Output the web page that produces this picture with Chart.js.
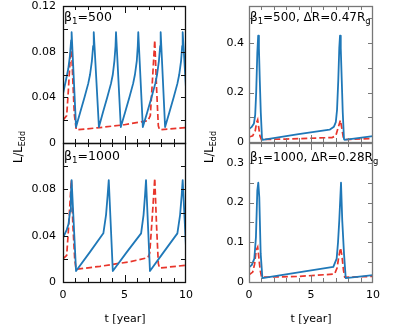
<!DOCTYPE html>
<html>
<head>
<meta charset="utf-8">
<script src="https://cdn.jsdelivr.net/npm/chart.js@4.4.0/dist/chart.umd.min.js"></script>
<style>
  body { margin: 0; background: #fff; }
  #wrap { position: relative; width: 415px; height: 332px; font-family: "DejaVu Sans", sans-serif; color: #000; }
  canvas { position: absolute; }
  .txt { position: absolute; white-space: nowrap; line-height: 1; }
  .txt sub { font-size: 0.7em; vertical-align: baseline; position: relative; top: 0.35em; }
  .ann { font-size: 12.5px; }
  .ann.r { font-size: 12px; }
  .ylab { font-size: 11.5px; transform: translate(-50%, -50%) rotate(-90deg); }
  .xlab { font-size: 11px; transform: translateX(-50%); }
</style>
</head>
<body>
<div id="wrap">
  <canvas id="tl" width="200" height="150" style="left:0;top:0"></canvas>
  <canvas id="bl" width="200" height="195" style="left:0;top:137px"></canvas>
  <canvas id="tr" width="215" height="150" style="left:200px;top:0"></canvas>
  <canvas id="br" width="215" height="195" style="left:200px;top:137px"></canvas>

  <div class="txt ann" style="left:64px;top:11px">β<sub>1</sub>=500</div>
  <div class="txt ann" style="left:64px;top:150px">β<sub>1</sub>=1000</div>
  <div class="txt ann r" style="left:250px;top:11px">β<sub>1</sub>=500, ΔR=0.47R<sub>g</sub></div>
  <div class="txt ann r" style="left:250px;top:151px">β<sub>1</sub>=1000, ΔR=0.28R<sub>g</sub></div>

  <div class="txt ylab" style="left:19px;top:147px">L/L<sub>Edd</sub></div>
  <div class="txt ylab" style="left:210px;top:147px">L/L<sub>Edd</sub></div>

  <div class="txt xlab" style="left:125px;top:313px">t [year]</div>
  <div class="txt xlab" style="left:311px;top:313px">t [year]</div>
</div>
<script>
// tick labels
const xLabels = ['0', '5', '10'];
const leftTopYLabels = ['0', '0.04', '0.08', '0.12'];
const leftBotYLabels = ['0', '0.04', '0.08'];
const rightTopYLabels = ['0', '0.2', '0.4'];
const rightBotYLabels = ['0', '0.1', '0.2', '0.3'];

// beta1 = 500 (left top)
const tlBlueT = [0, 0.2, 0.43, 0.57, 0.66, 0.7, 1.06,
  1.4, 1.75, 2.05, 2.2, 2.35, 2.45, 2.5, 2.92,
  3.25, 3.6, 3.9, 4.05, 4.18, 4.27, 4.31, 4.7,
  5.05, 5.4, 5.7, 5.85, 6.0, 6.08, 6.12, 6.49,
  6.85, 7.2, 7.5, 7.65, 7.8, 7.9, 7.94, 8.3,
  8.65, 9.0, 9.3, 9.45, 9.6, 9.69, 9.73, 10];
const tlBlueL = [0.043, 0.053, 0.065, 0.077, 0.090, 0.097, 0.014,
  0.027, 0.040, 0.052, 0.060, 0.072, 0.085, 0.097, 0.014,
  0.027, 0.040, 0.052, 0.060, 0.072, 0.085, 0.097, 0.014,
  0.027, 0.040, 0.052, 0.060, 0.072, 0.085, 0.097, 0.014,
  0.027, 0.040, 0.052, 0.060, 0.072, 0.085, 0.097, 0.014,
  0.027, 0.040, 0.052, 0.060, 0.072, 0.085, 0.097, 0.048];
const tlRedT = [0, 0.3, 0.43, 0.57, 0.67, 0.78, 0.92, 1.08, 3, 5, 6.9, 7.1, 7.3, 7.46, 7.6, 7.75, 7.85, 10];
const tlRedL = [0.020, 0.024, 0.045, 0.071, 0.089, 0.060, 0.025, 0.0115, 0.0135, 0.016, 0.0195, 0.024, 0.060, 0.090, 0.050, 0.015, 0.0115, 0.0135];

// beta1 = 1000 (left bottom)
const blBlueT = [0, 0.3, 0.45, 0.57, 0.64, 0.7, 1.06,
  2.2, 3.28, 3.5, 3.63, 3.72, 4.05,
  5.2, 6.35, 6.55, 6.67, 6.75, 7.07,
  8.2, 9.3, 9.52, 9.65, 9.73, 10];
const blBlueL = [0.038, 0.045, 0.050, 0.061, 0.075, 0.088, 0.0095,
  0.026, 0.042, 0.058, 0.075, 0.088, 0.0095,
  0.026, 0.042, 0.058, 0.075, 0.088, 0.0095,
  0.026, 0.042, 0.058, 0.075, 0.088, 0.030];
const blRedT = [0, 0.3, 0.43, 0.57, 0.68, 0.8, 0.95, 1.06, 3, 5.45, 6.9, 7.05, 7.25, 7.46, 7.6, 7.75, 7.85, 10];
const blRedL = [0.020, 0.023, 0.043, 0.069, 0.088, 0.050, 0.020, 0.011, 0.0135, 0.0175, 0.021, 0.025, 0.055, 0.0895, 0.050, 0.016, 0.012, 0.0145];

// beta1 = 500, dR = 0.47 Rg (right top)
const trBlueT = [0, 0.2, 0.4, 0.5, 0.58, 0.67, 0.74, 0.8, 0.87, 0.95, 1.05, 1.1,
  4, 6.5, 6.85, 7.0, 7.1, 7.2, 7.28, 7.34, 7.4, 7.48, 7.56, 7.66, 7.7, 10];
const trBlueL = [0.052, 0.060, 0.075, 0.11, 0.20, 0.36, 0.43, 0.38, 0.25, 0.12, 0.012, 0.009,
  0.032, 0.050, 0.062, 0.080, 0.13, 0.25, 0.38, 0.43, 0.38, 0.25, 0.12, 0.012, 0.009, 0.024];
const trRedT = [0, 0.3, 0.5, 0.62, 0.7, 0.78, 0.88, 1.0, 3, 6.7, 7.0, 7.2, 7.37, 7.47, 7.6, 7.7, 10];
const trRedL = [0.020, 0.025, 0.045, 0.080, 0.090, 0.060, 0.025, 0.010, 0.012, 0.018, 0.025, 0.060, 0.088, 0.060, 0.020, 0.010, 0.014];

// beta1 = 1000, dR = 0.28 Rg (right bottom)
const brBlueT = [0, 0.22, 0.43, 0.56, 0.67, 0.75, 0.83, 0.94, 1.08,
  4.5, 6.8, 7.07, 7.18, 7.28, 7.42, 7.52, 7.66, 7.8, 10];
const brBlueL = [0.037, 0.0425, 0.059, 0.113, 0.23, 0.25, 0.213, 0.072, 0.010,
  0.027, 0.038, 0.059, 0.10, 0.155, 0.25, 0.155, 0.072, 0.010, 0.0175];
const brRedT = [0, 0.3, 0.45, 0.58, 0.7, 0.8, 0.9, 1.02, 4, 6.9, 7.1, 7.25, 7.38, 7.5, 7.62, 7.72, 10];
const brRedL = [0.018, 0.025, 0.045, 0.080, 0.088, 0.060, 0.030, 0.012, 0.014, 0.020, 0.035, 0.065, 0.086, 0.065, 0.030, 0.012, 0.014];

const BLUE = '#1f78b8';
const RED = '#e8352b';
const FONT = '"DejaVu Sans", sans-serif';

// pick the label text for a tick value, '' when it has none
function labelFor(value, labels) {
    const hit = labels.find(s => Math.abs(parseFloat(s) - value) < 1e-6);
    return hit === undefined ? '' : hit;
}

// frame and inward ticks on all four sides
const frameTicks = {
    id: 'frameTicks',
    afterDatasetsDraw(chart, args, opts) {
        const {ctx, chartArea: a, scales: {x, y}} = chart;
        ctx.save();
        ctx.strokeStyle = opts.color;
        ctx.lineWidth = 1;
        ctx.beginPath();
        x.ticks.forEach(t => {
            if (t.value <= x.min + 1e-9 || t.value >= x.max - 1e-9) return;
            const px = Math.round(x.getPixelForValue(t.value)) + 0.5;
            const len = labelFor(t.value, xLabels) ? 7 : 4;
            ctx.moveTo(px, a.bottom); ctx.lineTo(px, a.bottom - len);
            ctx.moveTo(px, a.top); ctx.lineTo(px, a.top + len);
        });
        y.ticks.forEach(t => {
            if (t.value <= y.min + 1e-9 || t.value >= y.max - 1e-9) return;
            const py = Math.round(y.getPixelForValue(t.value)) + 0.5;
            const len = 5;
            ctx.moveTo(a.left, py); ctx.lineTo(a.left + len, py);
            ctx.moveTo(a.right, py); ctx.lineTo(a.right - len, py);
        });
        ctx.stroke();
        ctx.lineWidth = opts.width;
        ctx.strokeRect(a.left + 0.5, a.top + 0.5, a.right - a.left - 1, a.bottom - a.top);
        ctx.restore();
    }
};

function noPad(s) {
    s.paddingTop = 0; s.paddingBottom = 0; s.paddingLeft = 0; s.paddingRight = 0;
}

function makePanel(id, p) {
    const pts = (t, l) => t.map((v, i) => ({x: v, y: l[i]}));
    return new Chart(document.getElementById(id), {
        type: 'line',
        data: {
            datasets: [{
                data: pts(p.blueT, p.blueL),
                borderColor: BLUE,
                borderWidth: 1.8,
                borderJoinStyle: 'round',
                pointRadius: 0,
                tension: 0
            }, {
                data: pts(p.redT, p.redL),
                borderColor: RED,
                borderWidth: 1.7,
                borderDash: [6, 3],
                pointRadius: 0,
                tension: 0
            }]
        },
        options: {
            responsive: false,
            animation: false,
            events: [],
            layout: { padding: p.pad },
            plugins: {
                legend: { display: false },
                tooltip: { enabled: false },
                frameTicks: { color: p.frame, width: p.frameW }
            },
            scales: {
                x: {
                    type: 'linear', min: 0, max: 10,
                    grid: { display: false, drawTicks: false },
                    border: { display: false },
                    ticks: {
                        display: p.showX, stepSize: 1, autoSkip: false, maxRotation: 0,
                        padding: 7, color: '#000', font: { family: FONT, size: 11 },
                        callback: v => labelFor(v, xLabels)
                    },
                    afterFit: s => { s.height = p.xH; noPad(s); }
                },
                y: {
                    type: 'linear', min: 0, max: p.yMax,
                    grid: { display: false, drawTicks: false },
                    border: { display: false },
                    ticks: {
                        stepSize: p.yStep, autoSkip: false,
                        padding: p.yPad, color: '#000', font: { family: FONT, size: 11 },
                        callback: v => labelFor(v, p.yLabels)
                    },
                    afterFit: s => { s.width = p.yW; noPad(s); }
                }
            }
        },
        plugins: [frameTicks]
    });
}

makePanel('tl', {
    blueT: tlBlueT, blueL: tlBlueL, redT: tlRedT, redL: tlRedL,
    yMax: 0.12, yStep: 0.02, yLabels: leftTopYLabels, yW: 63, yPad: 7,
    xH: 0, showX: false, pad: { top: 6, right: 14, bottom: 7, left: 0 }, frame: '#111', frameW: 1.3
});
makePanel('bl', {
    blueT: blBlueT, blueL: blBlueL, redT: blRedT, redL: blRedL,
    yMax: 0.12, yStep: 0.02, yLabels: leftBotYLabels, yW: 63, yPad: 7,
    xH: 50, showX: true, pad: { top: 6, right: 14, bottom: 0, left: 0 }, frame: '#111', frameW: 1.3
});
makePanel('tr', {
    blueT: trBlueT, blueL: trBlueL, redT: trRedT, redL: trRedL,
    yMax: 0.55, yStep: 0.1, yLabels: rightTopYLabels, yW: 49, yPad: 5,
    xH: 0, showX: false, pad: { top: 6, right: 42, bottom: 8, left: 0 }, frame: '#777', frameW: 1.3
});
makePanel('br', {
    blueT: brBlueT, blueL: brBlueL, redT: brRedT, redL: brRedL,
    yMax: 0.35, yStep: 0.05, yLabels: rightBotYLabels, yW: 49, yPad: 5,
    xH: 50, showX: true, pad: { top: 6, right: 42, bottom: 0, left: 0 }, frame: '#777', frameW: 1.3
});
</script>
</body>
</html>
